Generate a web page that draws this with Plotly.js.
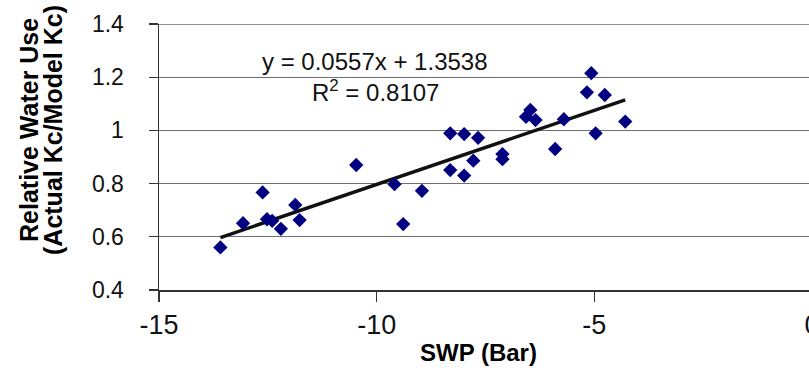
<!DOCTYPE html>
<html>
<head>
<meta charset="utf-8">
<script src="https://cdn.plot.ly/plotly-3.0.1.min.js"></script>
<style>html,body{margin:0;padding:0;background:#fff;overflow:hidden;width:809px;height:387px;}#chart{width:812px;height:387px;}</style>
</head>
<body>
<div id="chart"></div>
<script>
// SWP (Bar) values
var swp = [-13.59, -13.07, -12.62, -12.52, -12.40, -12.20, -11.87, -11.77, -10.47, -9.59,
           -9.39, -8.96, -8.31, -7.99, -8.31, -7.99, -7.67, -7.78, -7.11, -7.11,
           -6.57, -6.47, -6.35, -5.90, -5.70, -5.17, -5.07, -4.76, -4.97, -4.29];
// Relative water use (Actual Kc / Model Kc)
var rwu = [0.560, 0.651, 0.767, 0.666, 0.660, 0.630, 0.720, 0.663, 0.870, 0.798,
           0.648, 0.773, 0.989, 0.986, 0.851, 0.830, 0.972, 0.886, 0.911, 0.892,
           1.051, 1.077, 1.039, 0.930, 1.042, 1.143, 1.215, 1.133, 0.989, 1.033];
// Linear trendline shown on the chart
var slope = 0.0557;
var intercept = 1.3538;
var r2 = 0.8107;
var xTicks = [-15, -10, -5, 0];
var yTicks = [0.4, 0.6, 0.8, 1, 1.2, 1.4];

var xMin = Math.min.apply(null, swp), xMax = Math.max.apply(null, swp);
var trendX = [xMin, xMax];
var trendY = trendX.map(function (v) { return slope * v + intercept; });

var font = "Liberation Sans, Arial, sans-serif";
var W = 812, L = 159;          // figure is slightly wider than the window: the "0" label is cut off at the edge
var PW = W - L;

var traces = [
  {
    x: trendX, y: trendY, mode: 'lines', type: 'scatter',
    line: {color: '#111111', width: 3.5}, hoverinfo: 'skip', showlegend: false
  },
  {
    x: swp, y: rwu, mode: 'markers', type: 'scatter',
    marker: {symbol: 'diamond', size: 11, color: '#000080'},
    showlegend: false
  }
];

var layout = {
  width: W, height: 387,
  margin: {l: L, r: 0, t: 24, b: 97, pad: 0},
  paper_bgcolor: '#ffffff', plot_bgcolor: '#ffffff',
  font: {family: font, color: '#000'},
  showlegend: false,
  xaxis: {
    range: [-15, 0],
    tickmode: 'array', tickvals: xTicks, ticktext: xTicks.map(String),
    showgrid: false, zeroline: false,
    showline: true, linecolor: '#333', linewidth: 1.5,
    ticks: 'outside', ticklen: 10, tickwidth: 1.2, tickcolor: '#333',
    tickfont: {size: 27, family: font, color: '#111'},
    ticklabelstandoff: 0,
    ticklabeloverflow: 'allow'
  },
  yaxis: {
    range: [0.4, 1.4],
    tickmode: 'array', tickvals: yTicks, ticktext: yTicks.map(String),
    showgrid: true, gridcolor: '#6e6e6e', gridwidth: 1.3,
    zeroline: false,
    showline: true, linecolor: '#333', linewidth: 1.5,
    ticks: 'outside', ticklen: 9, tickwidth: 1.2, tickcolor: '#333',
    tickfont: {size: 23, family: font, color: '#111'},
    ticklabelstandoff: 20
  },
  shapes: [
    {type: 'line', xref: 'paper', yref: 'y', x0: 0, x1: 1, y0: 1.4, y1: 1.4,
     line: {color: '#6e6e6e', width: 1.3}}
  ],
  annotations: [
    {xref: 'paper', yref: 'paper', x: (375 - L) / PW, y: (290 - 61) / 266,
     text: 'y = ' + slope + 'x + ' + intercept, showarrow: false,
     xanchor: 'center', yanchor: 'middle', font: {size: 24, family: font, color: '#111'}},
    {xref: 'paper', yref: 'paper', x: (375 - L) / PW, y: (290 - 91) / 266,
     text: 'R<sup>2</sup> = ' + r2, showarrow: false,
     xanchor: 'center', yanchor: 'middle', font: {size: 24, family: font, color: '#111'}},
    {xref: 'paper', yref: 'paper', x: (29 - L) / PW, y: (290 - 130) / 266,
     text: '<b>Relative Water Use</b>', textangle: -90, showarrow: false,
     xanchor: 'center', yanchor: 'middle', font: {size: 25, family: font, color: '#000'}},
    {xref: 'paper', yref: 'paper', x: (53 - L) / PW, y: (290 - 130) / 266,
     text: '<b>(Actual Kc/Model Kc)</b>', textangle: -90, showarrow: false,
     xanchor: 'center', yanchor: 'middle', font: {size: 25, family: font, color: '#000'}},
    {xref: 'paper', yref: 'paper', x: (478 - L) / PW, y: (290 - 352) / 266,
     text: '<b>SWP (Bar)</b>', showarrow: false,
     xanchor: 'center', yanchor: 'middle', font: {size: 24, family: font, color: '#000'}}
  ]
};

Plotly.newPlot('chart', traces, layout, {staticPlot: true, displayModeBar: false});
</script>
</body>
</html>
